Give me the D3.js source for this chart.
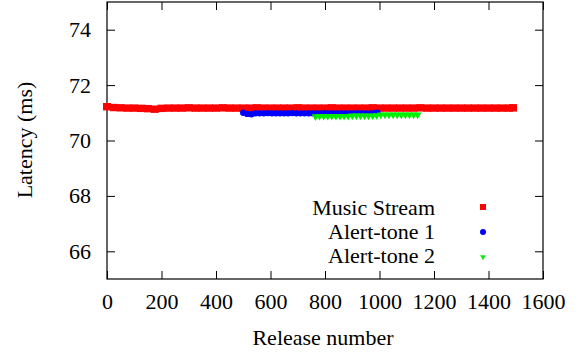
<html><head>
<script src="https://cdn.jsdelivr.net/npm/d3@7"></script>
</head><body style="margin:0;background:#fff">
<svg id="c" width="578" height="356" font-family="serif"></svg>
<script>
const xTicks = [0,200,400,600,800,1000,1200,1400,1600];
const yTicks = [66,68,70,72,74];
const seriesNames = ["Music Stream","Alert-tone 1","Alert-tone 2"];
const seriesColors = ["#ff0000","#0000ff","#00ee00"];

const musicX = [0,25,50,75,100,125,150,175,200,225,250,275,300,325,350,375,400,425,450,475,500,525,550,575,600,625,650,675,700,725,750,775,800,825,850,875,900,925,950,975,1000,1025,1050,1075,1100,1125,1150,1175,1200,1225,1250,1275,1300,1325,1350,1375,1400,1425,1450,1475,1490];
const musicY = [71.22,71.19,71.18,71.17,71.17,71.16,71.15,71.13,71.16,71.17,71.17,71.17,71.18,71.17,71.17,71.17,71.17,71.18,71.17,71.17,71.17,71.17,71.18,71.17,71.17,71.17,71.17,71.17,71.18,71.17,71.17,71.17,71.17,71.18,71.17,71.17,71.17,71.17,71.17,71.18,71.17,71.17,71.17,71.17,71.17,71.17,71.18,71.17,71.17,71.17,71.17,71.17,71.17,71.17,71.17,71.17,71.17,71.17,71.17,71.17,71.18];
const alert1X = [500,515,530,545,560,575,590,605,620,635,650,665,680,695,710,725,740,755,770,785,800,815,830,845,860,875,890,905,920,935,950,965,980,993];
const alert1Y = [71.00,70.96,70.95,70.98,70.98,70.98,70.99,70.98,70.98,70.98,70.98,70.98,70.99,70.98,70.98,70.98,70.98,70.98,70.98,70.98,70.99,70.98,70.98,70.98,70.98,70.98,70.98,70.98,70.99,70.98,70.98,70.98,70.99,71.00];
const alert2X = [765,780,795,810,825,840,855,870,885,900,915,930,945,960,975,990,1005,1020,1035,1050,1065,1080,1095,1110,1125,1140];
const alert2Y = [70.87,70.88,70.88,70.88,70.88,70.88,70.88,70.88,70.88,70.89,70.89,70.89,70.89,70.89,70.89,70.90,70.93,70.93,70.93,70.93,70.93,70.93,70.93,70.93,70.93,70.93];

const FF = "serif";
const svg = d3.select("#c");
const L=107, R=543, T=2, B=279;
const x = d3.scaleLinear().domain([0,1600]).range([L,R]);
const y = d3.scaleLinear().domain([65,75]).range([B,T]);

svg.append("rect").attr("x",L).attr("y",T).attr("width",R-L).attr("height",B-T)
  .attr("fill","none").attr("stroke","#000").attr("stroke-width",1.2);

const fs = 22;
const gx = svg.append("g").attr("transform",`translate(0,${B})`)
  .call(d3.axisBottom(x).tickValues(xTicks).tickSize(-8).tickPadding(14).tickFormat(d3.format("d")));
const gxt = svg.append("g").attr("transform",`translate(0,${T})`)
  .call(d3.axisTop(x).tickValues(xTicks).tickSize(-8).tickFormat(""));
const gy = svg.append("g").attr("transform",`translate(${L},0)`)
  .call(d3.axisLeft(y).tickValues(yTicks).tickSize(-8).tickPadding(16));
const gyr = svg.append("g").attr("transform",`translate(${R},0)`)
  .call(d3.axisRight(y).tickValues(yTicks).tickSize(-8).tickFormat(""));
[gx,gxt,gy,gyr].forEach(g=>{
  g.attr("font-family",FF).attr("font-size",fs);
  g.select(".domain").remove();
  g.selectAll("line").attr("stroke","#000").attr("stroke-width",1);
  g.selectAll("text").attr("font-family",FF).attr("font-size",fs).attr("fill","#000");
});
gx.selectAll("text").attr("dy","0.71em");

svg.append("text").attr("x",323).attr("y",345).attr("text-anchor","middle").attr("font-family",FF).attr("font-size",fs).text("Release number");
svg.append("text").attr("transform",`translate(32,140) rotate(-90)`).attr("text-anchor","middle").attr("font-family",FF).attr("font-size",fs).text("Latency (ms)");

const plot = svg.append("g");
plot.selectAll(".m").data(musicX.map((d,i)=>[d,musicY[i]])).join("rect")
  .attr("x",d=>x(d[0])-4).attr("y",d=>y(d[1])-3.7).attr("width",8).attr("height",7.4).attr("fill",seriesColors[0]);
plot.selectAll(".a1").data(alert1X.map((d,i)=>[d,alert1Y[i]])).join("circle")
  .attr("cx",d=>x(d[0])).attr("cy",d=>y(d[1])).attr("r",3.2).attr("fill",seriesColors[1]);
const tri = d3.symbol().type(d3.symbolTriangle).size(26);
plot.selectAll(".a2").data(alert2X.map((d,i)=>[d,alert2Y[i]])).join("path")
  .attr("d",tri).attr("transform",d=>`translate(${x(d[0])},${y(d[1])}) rotate(180)`).attr("fill",seriesColors[2]);

const leg = svg.append("g");
const ly = [207,231,255];
seriesNames.forEach((n,i)=>{
  leg.append("text").attr("x",435).attr("y",ly[i]).attr("dy","0.35em").attr("text-anchor","end").attr("font-family",FF).attr("font-size",fs).text(n);
});
leg.append("rect").attr("x",483-3).attr("y",ly[0]-3).attr("width",6).attr("height",6).attr("fill",seriesColors[0]);
leg.append("circle").attr("cx",483).attr("cy",ly[1]+1).attr("r",3).attr("fill",seriesColors[1]);
leg.append("path").attr("d",d3.symbol().type(d3.symbolTriangle).size(14)).attr("transform",`translate(483,${ly[2]+2}) rotate(180)`).attr("fill",seriesColors[2]);
</script>
</body></html>
